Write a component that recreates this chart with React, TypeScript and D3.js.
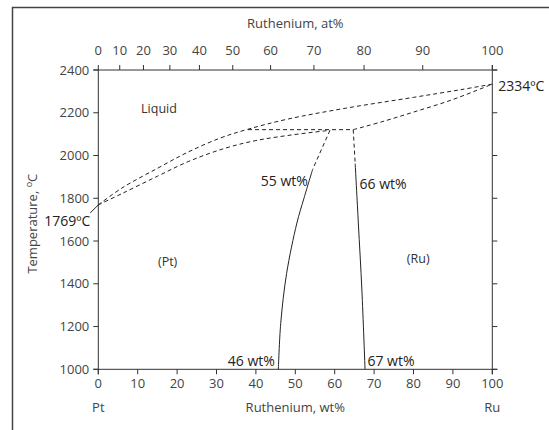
import React from "react";
import * as d3 from "d3";

// ---- data ----
const wtTicks = [0, 10, 20, 30, 40, 50, 60, 70, 80, 90, 100];
const atTicks = [0, 10, 20, 30, 40, 50, 60, 70, 80, 90, 100];
const tempTicks = [1000, 1200, 1400, 1600, 1800, 2000, 2200, 2400];
const MASS_RU = 101.07;
const MASS_PT = 195.08;

// [wt% Ru, temperature °C]
const liquidus: [number, number][] = [
  [0, 1769], [6, 1848], [15, 1940], [23, 2018], [31, 2082], [38, 2123],
  [48, 2170], [63, 2222], [80, 2272], [92, 2308], [100, 2334],
];
const solidusPt: [number, number][] = [
  [0, 1769], [6, 1822], [15, 1903], [23, 1973], [32, 2033], [40, 2070],
  [49, 2096], [58.8, 2118],
];
const peritectic: [number, number][] = [[38, 2121], [64.7, 2121]];
const solidusRu: [number, number][] = [
  [64.7, 2121], [72, 2158], [80, 2203], [90, 2262], [100, 2334],
];
const solvusPtDashed: [number, number][] = [[58.8, 2118], [54.4, 1935]];
const solvusPtSolid: [number, number][] = [
  [54.4, 1935], [52.2, 1800], [50.4, 1684], [47.8, 1449], [46.3, 1215], [45.7, 1000],
];
const solvusRuDashed: [number, number][] = [[64.7, 2121], [65.2, 1962]];
const solvusRuSolid: [number, number][] = [
  [65.2, 1962], [66.0, 1684], [66.9, 1371], [67.7, 1000],
];

const W = 549;
const H = 430;

export default function App() {
  const x = d3.scaleLinear().domain([0, 100]).range([98.3, 492.3]);
  const y = d3.scaleLinear().domain([1000, 2400]).range([369.3, 70]);
  const at2wt = (a: number) =>
    a === 0 ? 0 : (100 * a * MASS_RU) / (a * MASS_RU + (100 - a) * MASS_PT);

  const smooth = d3
    .line<[number, number]>()
    .x((d) => x(d[0]))
    .y((d) => y(d[1]))
    .curve(d3.curveCatmullRom.alpha(0.5));
  const straight = d3
    .line<[number, number]>()
    .x((d) => x(d[0]))
    .y((d) => y(d[1]));

  const axisColor = "#333";
  const tickColor = "#444";
  const font = "'Open Sans', 'Noto Sans', sans-serif";
  const x0 = x(0), x1 = x(100), yTop = y(2400), yBot = y(1000);
  const tk = 5;

  const dash = "4,3";
  const curveStroke = "#222";

  return (
    <svg
      width={W}
      height={H}
      style={{ position: "absolute", left: 0, top: 0, background: "#fff" }}
      fontFamily={font}
    >
      <rect x={0} y={0} width={W} height={H} fill="#fff" />
      {/* frame */}
      <rect x={12.5} y={7.5} width={W + 20} height={H + 20} fill="none" stroke="#444" strokeWidth={1.5} />

      {/* axes lines */}
      <line x1={x0 - tk} x2={x1 + tk} y1={yTop} y2={yTop} stroke={axisColor} />
      <line x1={x0 - tk} x2={x1 + tk} y1={yBot} y2={yBot} stroke={axisColor} />
      <line x1={x0} x2={x0} y1={yTop} y2={yBot + tk} stroke={axisColor} />
      <line x1={x1} x2={x1} y1={yTop - tk} y2={yBot + tk} stroke={axisColor} />

      {/* left & right ticks */}
      {tempTicks.map((t) => (
        <g key={"t" + t}>
          <line x1={x0 - tk} x2={x0} y1={y(t)} y2={y(t)} stroke={axisColor} />
          <line x1={x1} x2={x1 + tk} y1={y(t)} y2={y(t)} stroke={axisColor} />
          <text x={x0 - 9} y={y(t) + 4.5} textAnchor="end" fontSize={13} fill={tickColor}>
            {t}
          </text>
        </g>
      ))}

      {/* bottom ticks */}
      {wtTicks.map((w) => (
        <g key={"w" + w}>
          <line x1={x(w)} x2={x(w)} y1={yBot} y2={yBot + tk} stroke={axisColor} />
          <text x={x(w)} y={yBot + 19} textAnchor="middle" fontSize={13} fill={tickColor}>
            {w}
          </text>
        </g>
      ))}

      {/* top ticks (at%) */}
      {atTicks.map((a) => (
        <g key={"a" + a}>
          <line x1={x(at2wt(a))} x2={x(at2wt(a))} y1={yTop - tk} y2={yTop} stroke={axisColor} />
          <text x={x(at2wt(a))} y={yTop - 15} textAnchor="middle" fontSize={13} fill={tickColor}>
            {a}
          </text>
        </g>
      ))}

      {/* axis titles */}
      <text x={(x0 + x1) / 2} y={28} textAnchor="middle" fontSize={13} fill={tickColor}>
        Ruthenium, at%
      </text>
      <text x={(x0 + x1) / 2} y={412} textAnchor="middle" fontSize={13} fill={tickColor}>
        Ruthenium, wt%
      </text>
      <text x={x0} y={412} textAnchor="middle" fontSize={13} fill={tickColor}>
        Pt
      </text>
      <text x={x1} y={412} textAnchor="middle" fontSize={13} fill={tickColor}>
        Ru
      </text>
      <text
        transform={`translate(37, ${(yTop + yBot) / 2 + 4}) rotate(-90)`}
        textAnchor="middle"
        fontSize={13}
        fill={tickColor}
      >
        Temperature,{" "}
        <tspan fontSize={9} dy={-5}>o</tspan>
        <tspan dy={5}>C</tspan>
      </text>

      {/* phase boundaries */}
      <g fill="none" stroke={curveStroke} strokeWidth={1}>
        <path d={smooth(liquidus) || ""} strokeDasharray={dash} />
        <path d={smooth(solidusPt) || ""} strokeDasharray={dash} />
        <path d={straight(peritectic) || ""} strokeDasharray={dash} />
        <path d={smooth(solidusRu) || ""} strokeDasharray={dash} />
        <path d={straight(solvusPtDashed) || ""} strokeDasharray={dash} />
        <path d={smooth(solvusPtSolid) || ""} />
        <path d={straight(solvusRuDashed) || ""} strokeDasharray={dash} />
        <path d={smooth(solvusRuSolid) || ""} />
        {/* leader to 1769 label */}
        <line x1={x(0) - 8} y1={y(1769) + 8} x2={x(0)} y2={y(1769)} />
      </g>

      {/* annotations */}
      <g fontSize={14} fill="#222">
        <text x={x(0) - 8} y={y(1769) + 21} textAnchor="end">1769ºC</text>
        <text x={x(100) + 6} y={y(2334) + 7} textAnchor="start">2334ºC</text>
        <text x={x(53.2)} y={y(1880) + 5} textAnchor="end">55 wt%</text>
        <text x={x(66.3)} y={y(1866) + 5} textAnchor="start">66 wt%</text>
        <text x={x(44.8)} y={y(1040) + 5} textAnchor="end">46 wt%</text>
        <text x={x(68.3)} y={y(1040) + 5} textAnchor="start">67 wt%</text>
      </g>
      <g fontSize={12.5} fill="#333" textAnchor="middle">
        <text x={x(15.4)} y={y(2218) + 4.5}>Liquid</text>
        <text x={x(17.6)} y={y(1504) + 4.5}>(Pt)</text>
        <text x={x(81.2)} y={y(1520) + 4.5}>(Ru)</text>
      </g>
    </svg>
  );
}
